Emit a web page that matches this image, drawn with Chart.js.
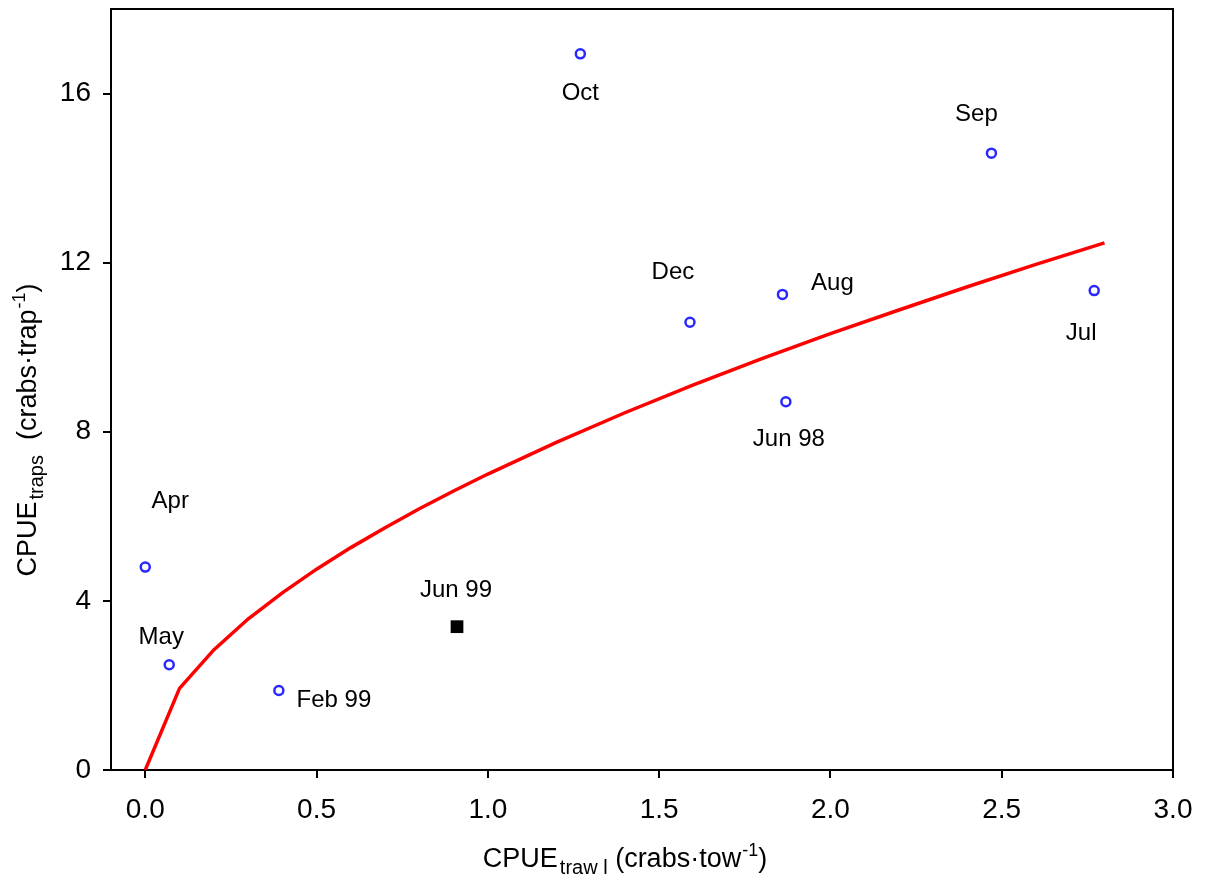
<!DOCTYPE html>
<html lang="en">
<head>
<meta charset="UTF-8">
<title>CPUE traps vs trawl</title>
<script src="https://cdn.jsdelivr.net/npm/chart.js"></script>
<style>
  html, body { margin: 0; padding: 0; background: #fff; }
  #wrap { width: 1208px; height: 883px; }
</style>
</head>
<body>
<div id="wrap"><canvas id="grafico" width="1208" height="883"></canvas></div>
<script>
// valores
const meses = ['Oct', 'Sep', 'Dec', 'Aug', 'Jul', 'Jun 98', 'Apr', 'May', 'Feb 99'];
const trawlMeses = [1.27, 2.47, 1.59, 1.86, 2.77, 1.87, 0.00, 0.07, 0.39];
const trapsMeses = [16.94, 14.59, 10.59, 11.25, 11.34, 8.71, 4.80, 2.49, 1.88];

const destaque = ['Jun 99'];
const trawlDestaque = [0.91];
const trapsDestaque = [3.39];

// curva ajustada (vermelha)
const curvaX = [0, 0.1, 0.2, 0.3, 0.4, 0.5, 0.6, 0.7, 0.8, 0.9, 1.0, 1.2, 1.4, 1.6, 1.8, 2.0, 2.2, 2.4, 2.6, 2.8];
const curvaY = [0, 1.93, 2.84, 3.57, 4.19, 4.75, 5.26, 5.73, 6.18, 6.60, 7.00, 7.75, 8.45, 9.11, 9.73, 10.32, 10.88, 11.43, 11.96, 12.47];

const xTicks = [0, 0.5, 1.0, 1.5, 2.0, 2.5, 3.0];
const yTicks = [0, 4, 8, 12, 16];

// deslocamento dos rótulos em pixels (dx, dy)
const deslocMeses = [[0, 40], [-15, -39], [-17, -50], [50, -11], [-13, 43], [3, 38], [25, -66], [-8, -27], [55, 10]];
const deslocDestaque = [[-1, -36]];

const fonte = 'Liberation Sans, Arial, sans-serif';

const rotulos = {
  id: 'rotulos',
  afterDatasetsDraw(chart) {
    const ctx = chart.ctx;
    const xs = chart.scales.x, ys = chart.scales.y;
    ctx.save();
    ctx.fillStyle = '#000';
    ctx.font = '24px ' + fonte;
    ctx.textAlign = 'center';
    ctx.textBaseline = 'middle';
    meses.forEach((m, i) => {
      ctx.fillText(m, xs.getPixelForValue(trawlMeses[i]) + deslocMeses[i][0], ys.getPixelForValue(trapsMeses[i]) + deslocMeses[i][1]);
    });
    destaque.forEach((m, i) => {
      ctx.fillText(m, xs.getPixelForValue(trawlDestaque[i]) + deslocDestaque[i][0], ys.getPixelForValue(trapsDestaque[i]) + deslocDestaque[i][1]);
    });
    ctx.restore();
  }
};

// desenha partes de um título com sub/sobrescrito, retorna largura
function partes(ctx, lista, x, y, medir) {
  let w = 0;
  lista.forEach(p => {
    ctx.font = p.size + 'px ' + fonte;
    if (!medir) ctx.fillText(p.t, x + w + (p.gap || 0), y + (p.dy || 0));
    w += ctx.measureText(p.t).width + (p.gap || 0);
  });
  return w;
}

const titulos = {
  id: 'titulos',
  afterDraw(chart) {
    const ctx = chart.ctx;
    const a = chart.chartArea;
    ctx.save();
    // moldura em cima e à direita
    ctx.strokeStyle = '#000';
    ctx.lineWidth = 2;
    ctx.beginPath();
    ctx.moveTo(a.left, a.top);
    ctx.lineTo(a.right, a.top);
    ctx.lineTo(a.right, a.bottom);
    ctx.stroke();

    ctx.fillStyle = '#000';
    ctx.textAlign = 'left';
    ctx.textBaseline = 'alphabetic';

    const tx = [
      { t: 'CPUE', size: 27 },
      { t: 'traw l', size: 20, dy: 7, gap: 2 },
      { t: ' (crabs\u00b7tow', size: 27 },
      { t: '-1', size: 18, dy: -11, gap: 1 },
      { t: ')', size: 27 }
    ];
    const wx = partes(ctx, tx, 0, 0, true);
    partes(ctx, tx, 625 - wx / 2, 867, false);

    const ty = [
      { t: 'CPUE', size: 27 },
      { t: 'traps', size: 20, dy: 7, gap: 2 },
      { t: '  (crabs\u00b7trap', size: 27 },
      { t: '-1', size: 18, dy: -11, gap: 1 },
      { t: ')', size: 27 }
    ];
    const wy = partes(ctx, ty, 0, 0, true);
    ctx.translate(36, 430);
    ctx.rotate(-Math.PI / 2);
    partes(ctx, ty, -wy / 2, 0, false);
    ctx.restore();
  }
};

new Chart(document.getElementById('grafico'), {
  type: 'scatter',
  data: {
    datasets: [
      {
        label: 'meses',
        data: trawlMeses.map((v, i) => ({ x: v, y: trapsMeses[i] })),
        pointStyle: 'circle',
        pointRadius: 4.5,
        pointBorderWidth: 2.5,
        pointBorderColor: 'rgb(40, 40, 255)',
        pointBackgroundColor: '#fff',
        order: 2
      },
      {
        label: 'Jun 99',
        data: trawlDestaque.map((v, i) => ({ x: v, y: trapsDestaque[i] })),
        pointStyle: 'rect',
        pointRadius: 9,
        pointBorderWidth: 0,
        pointBackgroundColor: '#000',
        pointBorderColor: '#000',
        order: 2
      },
      {
        label: 'ajuste',
        data: curvaX.map((v, i) => ({ x: v, y: curvaY[i] })),
        showLine: true,
        borderColor: 'rgb(255, 0, 0)',
        borderWidth: 3.5,
        pointRadius: 0,
        fill: false,
        tension: 0,
        order: 1
      }
    ]
  },
  options: {
    responsive: false,
    animation: false,
    events: [],
    layout: { padding: { top: -3, right: 35, left: 0, bottom: 0 } },
    plugins: { legend: { display: false }, tooltip: { enabled: false } },
    scales: {
      x: {
        type: 'linear',
        min: -0.1,
        max: 3.0,
        afterBuildTicks: s => { s.ticks = xTicks.map(v => ({ value: v })); },
        afterFit: s => { s.height = 113; s.paddingLeft = 0; s.paddingRight = 0; },
        ticks: {
          color: '#000',
          font: { size: 28, family: fonte },
          padding: 15,
          callback: v => Number(v).toFixed(1)
        },
        grid: { drawOnChartArea: false, drawTicks: true, tickLength: 8, color: '#000', lineWidth: 2 },
        border: { color: '#000', width: 2 }
      },
      y: {
        type: 'linear',
        min: 0,
        max: 18,
        afterBuildTicks: s => { s.ticks = yTicks.map(v => ({ value: v })); },
        afterFit: s => { s.width = 111; s.paddingTop = 0; s.paddingBottom = 0; },
        ticks: {
          color: '#000',
          font: { size: 28, family: fonte },
          padding: 12
        },
        grid: { drawOnChartArea: false, drawTicks: true, tickLength: 8, color: '#000', lineWidth: 2 },
        border: { color: '#000', width: 2 }
      }
    }
  },
  plugins: [rotulos, titulos]
});
</script>
</body>
</html>
